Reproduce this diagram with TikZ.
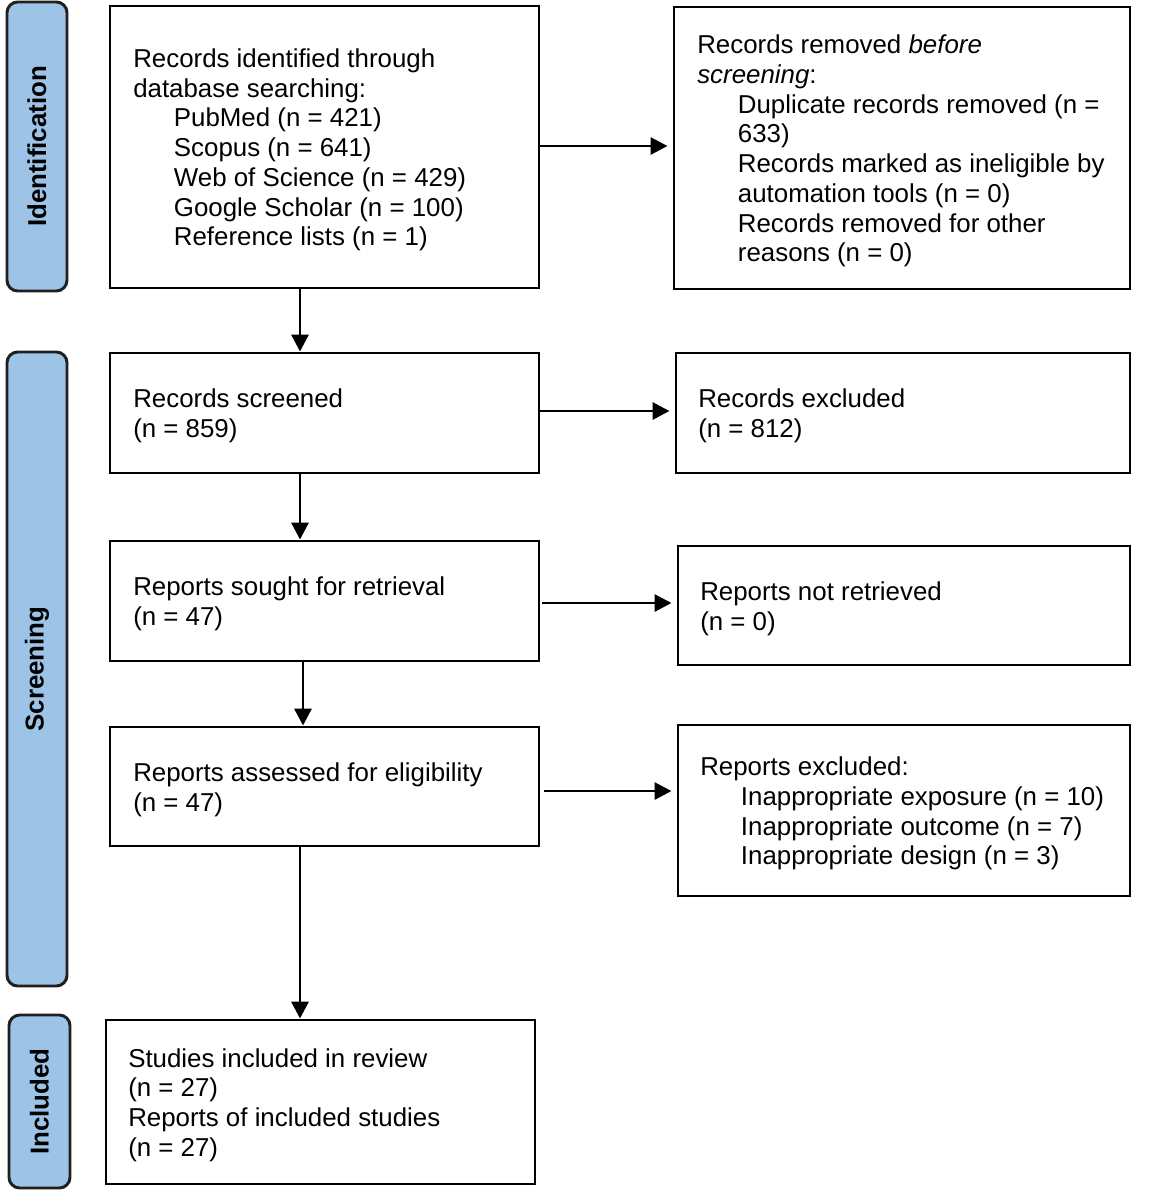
\documentclass[tikz,border=0pt]{standalone}
\usepackage{fontspec}
\setmainfont{Liberation Sans}
\usetikzlibrary{arrows.meta}
\definecolor{sidefill}{HTML}{9DC3E6}
\definecolor{sideline}{HTML}{1F1F1F}
\newcommand\pbox[5]{\node[boxstyle, minimum width={(#4-#2)*0.75pt}, minimum height={(#5-#3)*0.75pt}] (#1) at (#2,#3) {};}
\newcommand\ind{\hspace*{30.5pt}}
\begin{document}
\begin{tikzpicture}[x=0.75pt,y=-0.75pt,
  boxstyle/.style={draw=black, line width=1.9pt, inner sep=0pt, outer sep=0pt, anchor=north west},
  txt/.style={anchor=west, align=left, inner sep=0pt, font=\fontsize{19.4}{22.3}\selectfont},
  side/.style={draw=sideline, fill=sidefill, line width=2.2pt, rounded corners=8pt, inner sep=0pt, outer sep=0pt, rotate=90, font=\fontsize{19.4}{22.3}\selectfont\bfseries},
  arrbase/.style={line width=1.1pt, -{Triangle[length=12.5pt,width=13pt]}},
  arrh/.style={arrbase, shorten >=5pt},
  arrv/.style={arrbase, shorten >=1.2pt},
]
\useasboundingbox (0,0) rectangle (1151,1196);

% side labels
\node[side, minimum width={289*0.75pt}, minimum height={60*0.75pt}] (s1) at (37,146.5) {Identification};
\node[side, minimum width={634*0.75pt}, minimum height={60*0.75pt}] (s2) at (37,669) {Screening};
\node[side, minimum width={173*0.75pt}, minimum height={61*0.75pt}] (s3) at (39.5,1101.5) {Included};

% boxes
\pbox{b1}{110}{6}{539}{288}
\pbox{b2}{674}{7}{1130}{289}
\pbox{b3}{110}{353}{539}{473}
\pbox{b4}{676}{353}{1130}{473}
\pbox{b5}{110}{541}{539}{661}
\pbox{b6}{678}{546}{1130}{665}
\pbox{b7}{110}{727}{539}{846}
\pbox{b8}{678}{725}{1130}{896}
\pbox{b9}{106}{1020}{535}{1184}

% texts
\node[txt] (t1) at ([xshift=17.25pt,yshift=-2.25pt]b1.west) {Records identified through\\database searching:\\\ind PubMed (n = 421)\\\ind Scopus (n = 641)\\\ind Web of Science (n = 429)\\\ind Google Scholar (n = 100)\\\ind Reference lists (n = 1)};
\node[txt] (t2) at ([xshift=17.25pt,yshift=-2.25pt]b2.west) {Records removed \textit{before}\\\textit{screening}:\\\ind Duplicate records removed (n =\\\ind 633)\\\ind Records marked as ineligible by\\\ind automation tools (n = 0)\\\ind Records removed for other\\\ind reasons (n = 0)};
\node[txt] (t3) at ([xshift=17.25pt,yshift=-2.25pt]b3.west) {Records screened\\(n = 859)};
\node[txt] (t4) at ([xshift=16.5pt,yshift=-2.25pt]b4.west) {Records excluded\\(n = 812)};
\node[txt] (t5) at ([xshift=17.25pt,yshift=-2.25pt]b5.west) {Reports sought for retrieval\\(n = 47)};
\node[txt] (t6) at ([xshift=16.5pt,yshift=-2.25pt]b6.west) {Reports not retrieved\\(n = 0)};
\node[txt] (t7) at ([xshift=17.25pt,yshift=-2.25pt]b7.west) {Reports assessed for eligibility\\(n = 47)};
\node[txt] (t8) at ([xshift=16.5pt,yshift=-2.25pt]b8.west) {Reports excluded:\\\ind Inappropriate exposure (n = 10)\\\ind Inappropriate outcome (n = 7)\\\ind Inappropriate design (n = 3)};
\node[txt] (t9) at ([xshift=16.5pt,yshift=-2.25pt]b9.west) {Studies included in review\\(n = 27)\\Reports of included studies\\(n = 27)};

% connectors
\coordinate (c1) at (300,0);
\coordinate (c2) at (303,0);
\draw[arrv] (b1.south -| c1) -- (b3.north -| c1);
\draw[arrv] (b3.south -| c1) -- (b5.north -| c1);
\draw[arrv] (b5.south -| c2) -- (b7.north -| c2);
\draw[arrv] (b7.south -| c1) -- (b9.north -| c1);
\draw[arrh] ([yshift=0.75pt]b1.east) -- ([yshift=0.75pt]b1.east -| b2.west);
\draw[arrh] ([yshift=1.5pt]b3.east) -- ([yshift=1.5pt]b3.east -| b4.west);
\draw[arrh] ([xshift=2pt,yshift=-1.5pt]b5.east) -- ([yshift=-1.5pt]b5.east -| b6.west);
\draw[arrh] ([xshift=4pt,yshift=-3.4pt]b7.east) -- ([yshift=-3.4pt]b7.east -| b8.west);
\end{tikzpicture}
\end{document}
